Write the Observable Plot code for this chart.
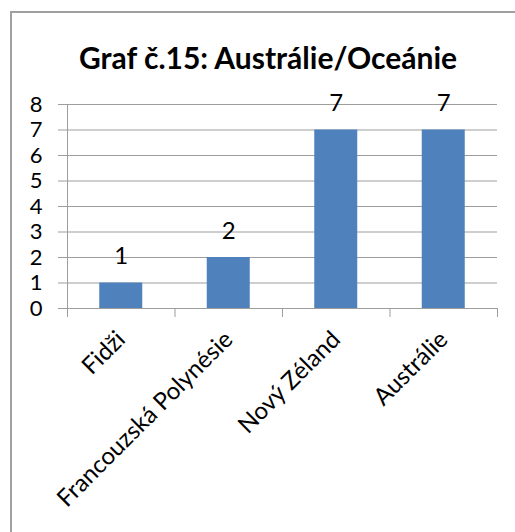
<!DOCTYPE html>
<html><head><meta charset="utf-8">
<script src="https://cdn.jsdelivr.net/npm/d3@7"></script>
<script src="https://cdn.jsdelivr.net/npm/@observablehq/plot@0.6"></script>
<style>
html,body{margin:0;padding:0;background:#fff;overflow:hidden;}
#wrap{position:relative;width:515px;height:532px;overflow:hidden;background:#fff;}
#frame{position:absolute;left:10px;top:11px;width:600px;height:620px;border:2px solid #a0a0a0;box-sizing:border-box;pointer-events:none;}
#title{position:absolute;left:0;top:39px;width:536px;text-align:center;font-family:Lato,"Open Sans",sans-serif;font-weight:bold;font-size:30px;line-height:36px;color:#000;white-space:nowrap;}
#chart{position:absolute;left:0;top:0;}
</style></head>
<body>
<div id="wrap"><div id="frame"></div><div id="title"></div><div id="chart"></div></div>
<script>
const title = "Graf č.15: Austrálie/Oceánie";
const categories = ["Fidži", "Francouzská Polynésie", "Nový Zéland", "Austrálie"];
const values = [1, 2, 7, 7];
const yTicks = [0, 1, 2, 3, 4, 5, 6, 7, 8];

document.getElementById("title").textContent = title;
const data = categories.map((c, i) => ({name: c, value: values[i], i}));
const boundaries = d3.range(categories.length + 1);
const gridColor = "#9d9d9d";
const font = "Lato, 'Open Sans', sans-serif";

const chart = Plot.plot({
  width: 515, height: 532,
  marginLeft: 67, marginRight: 18, marginTop: 104, marginBottom: 224,
  style: {fontFamily: font, fontSize: "24px", color: "#000", background: "transparent", overflow: "visible"},
  x: {domain: [0, categories.length], axis: null},
  y: {domain: [0, 8], axis: null},
  marks: [
    Plot.gridY(yTicks, {stroke: gridColor, strokeOpacity: 1, strokeWidth: 1}),
    Plot.rectY(data, {x1: d => d.i + 0.3, x2: d => d.i + 0.7, y: "value", fill: "#4F81BD"}),
    Plot.axisY(yTicks, {label: null, tickSize: 9, tickPadding: 16, stroke: gridColor, fill: "#000", fontSize: 22, tickFormat: d => String(d)}),
    Plot.ruleX([0], {stroke: gridColor}),
    Plot.axisX(boundaries, {label: null, tickSize: 9, stroke: gridColor, tickFormat: () => ""}),
    Plot.ruleY([0], {stroke: gridColor}),
    Plot.text(data, {x: d => d.i + 0.5, y: "value", text: d => String(d.value), lineAnchor: "bottom", dy: -19, fontSize: 24, fill: "#000"}),
    Plot.text(data, {x: d => d.i + 0.5, y: 0, text: "name", rotate: -45, textAnchor: "end", lineAnchor: "middle", dx: 0, dy: 27, fontSize: 24, fill: "#000"})
  ]
});
document.getElementById("chart").appendChild(chart);
</script>
</body></html>
